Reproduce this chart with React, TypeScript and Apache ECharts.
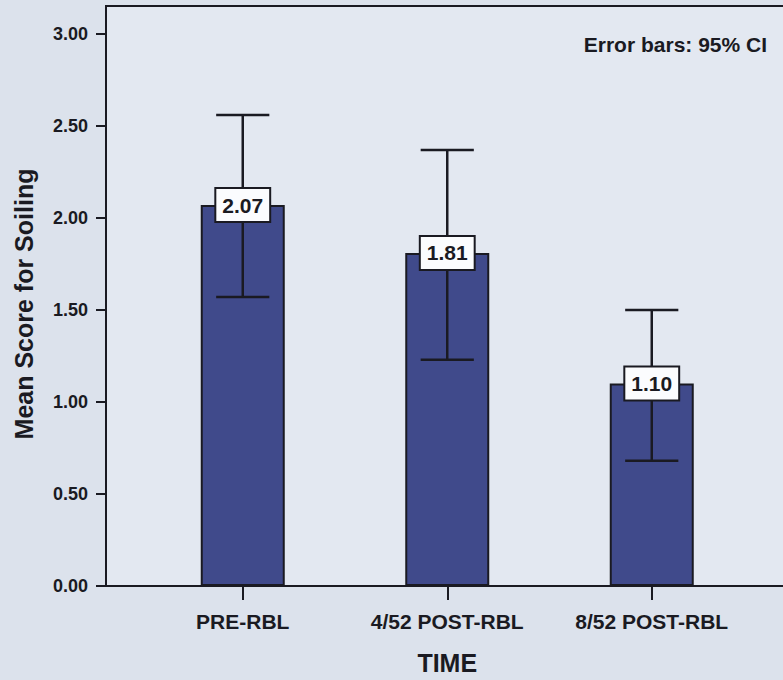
import { useEffect, useRef } from 'react';
import * as echarts from 'echarts';

// Mean soiling score per time point, with 95% confidence interval bounds
const categories = ['PRE-RBL', '4/52 POST-RBL', '8/52 POST-RBL'];
const means = [2.07, 1.81, 1.1];
const ciLower = [1.57, 1.23, 0.68];
const ciUpper = [2.56, 2.37, 1.5];
const yTicks = [0, 0.5, 1, 1.5, 2, 2.5, 3];

const FONT = '"Liberation Sans", Arial, Helvetica, sans-serif';
const INK = '#1a1a22';
const PAGE_BG = '#dce2ec';
const PLOT_BG = '#e3e8f1';
const BAR_FILL = '#404a8b';
const Y_MAX = 3.152;

export default function App() {
  const ref = useRef<HTMLDivElement>(null);

  useEffect(() => {
    if (!ref.current) return;
    const chart = echarts.init(ref.current, null, { renderer: 'svg' });

    chart.setOption({
      animation: false,
      backgroundColor: PAGE_BG,
      title: {
        text: 'Error bars: 95% CI',
        right: 16,
        top: 34,
        padding: 0,
        textStyle: { fontFamily: FONT, fontSize: 21, fontWeight: 'bold', color: INK },
      },
      grid: [
        {
          left: 106,
          top: 6,
          width: 682,
          height: 580,
          show: true,
          backgroundColor: PLOT_BG,
          borderColor: INK,
          borderWidth: 2,
          outerBoundsMode: 'none',
        },
        { left: 140.5, top: 6, width: 613.5, height: 580, outerBoundsMode: 'none' },
      ],
      xAxis: [
        { gridIndex: 0, type: 'value', min: 0, max: 1, show: false },
        {
          gridIndex: 1,
          type: 'category',
          data: categories,
          axisLine: { show: true, lineStyle: { color: INK, width: 2 } },
          axisTick: { show: true, alignWithLabel: true, length: 14, lineStyle: { color: INK, width: 2 } },
          axisLabel: { margin: 25, fontFamily: FONT, fontSize: 21, fontWeight: 'bold', color: INK },
          splitLine: { show: false },
          name: 'TIME',
          nameLocation: 'middle',
          nameGap: 64,
          nameTextStyle: { fontFamily: FONT, fontSize: 25, fontWeight: 'bold', color: INK },
        },
      ],
      yAxis: [
        {
          gridIndex: 0,
          type: 'value',
          min: 0,
          max: Y_MAX,
          axisLine: { show: true, lineStyle: { color: INK, width: 2 } },
          axisTick: { show: true, length: 10, customValues: yTicks, lineStyle: { color: INK, width: 2 } },
          axisLabel: {
            customValues: yTicks,
            formatter: (v: number) => v.toFixed(2),
            margin: 18,
            fontFamily: FONT,
            fontSize: 18,
            fontWeight: 'bold',
            color: INK,
          },
          splitLine: { show: false },
          name: 'Mean Score for Soiling',
          nameLocation: 'middle',
          nameGap: 70,
          nameTextStyle: {
            fontFamily: FONT,
            fontSize: 25,
            fontWeight: 'bold',
            color: INK,
            padding: [0, 16, 0, 0],
          },
        },
        { gridIndex: 1, type: 'value', min: 0, max: Y_MAX, show: false },
      ],
      series: [
        {
          type: 'bar',
          xAxisIndex: 1,
          yAxisIndex: 1,
          data: means,
          barWidth: 84,
          z: 2,
          itemStyle: { color: BAR_FILL, borderColor: INK, borderWidth: 2 },
        },
        {
          // 95% CI whiskers plus the boxed mean value at each bar top
          type: 'custom',
          xAxisIndex: 1,
          yAxisIndex: 1,
          z: 3,
          data: categories.map((_, i) => [i, means[i], ciLower[i], ciUpper[i]]),
          encode: { x: 0, y: [1, 2, 3] },
          renderItem: (_params: any, api: any) => {
            const idx = api.value(0);
            const mean = api.value(1);
            const top = api.coord([idx, mean]);
            const lo = api.coord([idx, api.value(2)]);
            const hi = api.coord([idx, api.value(3)]);
            const half = api.size([1, 0])[0] * 0.13;
            const style = { stroke: INK, lineWidth: 2.5 };
            return {
              type: 'group',
              children: [
                { type: 'line', shape: { x1: lo[0], y1: lo[1], x2: hi[0], y2: hi[1] }, style },
                { type: 'line', shape: { x1: hi[0] - half, y1: hi[1], x2: hi[0] + half, y2: hi[1] }, style },
                { type: 'line', shape: { x1: lo[0] - half, y1: lo[1], x2: lo[0] + half, y2: lo[1] }, style },
                {
                  type: 'text',
                  x: top[0],
                  y: top[1],
                  z2: 10,
                  style: {
                    text: Number(mean).toFixed(2),
                    align: 'center',
                    verticalAlign: 'middle',
                    fontFamily: FONT,
                    fontSize: 21,
                    fontWeight: 'bold',
                    lineHeight: 21,
                    fill: INK,
                    backgroundColor: '#fbfcfe',
                    borderColor: INK,
                    borderWidth: 2,
                    padding: [6, 6, 5, 6],
                  },
                },
              ],
            };
          },
        },
      ],
    });

    return () => chart.dispose();
  }, []);

  return (
    <div
      ref={ref}
      style={{ position: 'fixed', left: 0, top: 0, width: 783, height: 680, background: PAGE_BG }}
    />
  );
}
